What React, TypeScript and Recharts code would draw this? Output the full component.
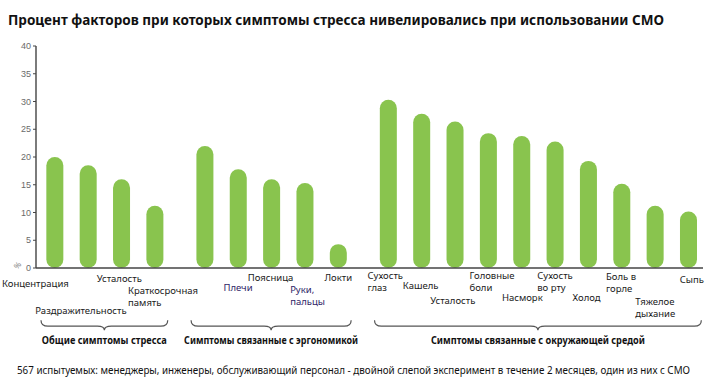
import { BarChart, Bar, XAxis, YAxis, ReferenceArea } from "recharts";

// значения
const categories = [
  "Концентрация",
  "Раздражительность",
  "Усталость",
  "Краткосрочная\nпамять",
  "",
  "Плечи",
  "Поясница",
  "Руки,\nпальцы",
  "Локти",
  "Сухость\nглаз",
  "Кашель",
  "Усталость",
  "Головные\nболи",
  "Насморк",
  "Сухость\nво рту",
  "Холод",
  "Боль в\nгорле",
  "Тяжелое\nдыхание",
  "Сыпь",
];
const values = [
  20, 18.5, 16, 11.2, 22, 17.8, 16, 15.3, 4.3, 30.3, 27.8, 26.4, 24.3, 23.8,
  22.8, 19.3, 15.2, 11.2, 10.2,
];
const groupNames = [
  "Общие симптомы стресса",
  "Симптомы связанные с эргономикой",
  "Симптомы связанные с окружающей средой",
];
const groupSizes = [4, 5, 10];
const yTicks = [0, 5, 10, 15, 20, 25, 30, 35, 40];

const title =
  "Процент факторов при которых симптомы стресса нивелировались при использовании СМО";
const footnote =
  "567 испытуемых: менеджеры, инженеры, обслуживающий персонал - двойной слепой эксперимент в течение 2 месяцев, один из них с СМО";

// группы разделены половиной шага
const groupOf: number[] = [];
groupSizes.forEach((n, g) => {
  for (let k = 0; k < n; k++) groupOf.push(g);
});
const data = values.map((v, i) => ({
  name: categories[i],
  value: v,
  pos: i + groupOf[i] * 0.5,
}));
const groups = groupNames.map((name, g) => {
  const items = data.filter((_, i) => groupOf[i] === g);
  return { name, from: items[0].pos, to: items[items.length - 1].pos };
});

// смещение подписи (левый край от центра столбца, центр строки от оси)
const labelPlace: [number, number][] = [
  [-53, 15], [-53, 42], [-25, 10], [-27, 22], [0, 0],
  [-15, 19], [-24, 9], [-15, 21], [-14, 9],
  [-21, 7], [-19, 17], [-25, 32], [-19, 7], [-20, 29],
  [-18, 7], [-16, 29], [-16, 8], [-20, 33], [-9, 11],
];
const purple = new Set([5, 7]);
// ширина подписей групп, как в исходнике
const groupLabelWidth = [125, 174, 214];

const font = "'Noto Sans', 'Open Sans', sans-serif";

const CategoryTick = (props: any) => {
  const { x, y, index } = props;
  const text = categories[index];
  if (!text) return null;
  const [dx, dy] = labelPlace[index];
  const lines = text.split("\n");
  return (
    <g>
      {lines.map((line, k) => (
        <text
          key={k}
          x={x + dx}
          y={y + dy + k * 12.5}
          fontSize={9.5}
          fontFamily={font}
          fill={purple.has(index) ? "#2e2466" : "#1a1a1a"}
          dominantBaseline="central"
        >
          {line}
        </text>
      ))}
    </g>
  );
};

const braceShape = (label: string, w: number) => (props: any) => {
  const { x, y, width } = props;
  const mid = x + width / 2;
  const h = 6;
  const r = 7;
  const d =
    `M${x},${y} Q${x},${y + h} ${x + r},${y + h} L${mid - r},${y + h} ` +
    `Q${mid},${y + h} ${mid},${y + h + 4} Q${mid},${y + h} ${mid + r},${y + h} ` +
    `L${x + width - r},${y + h} Q${x + width},${y + h} ${x + width},${y}`;
  return (
    <g>
      <path d={d} fill="none" stroke="#555" strokeWidth={1.2} />
      <text
        x={mid}
        y={y + 20}
        textAnchor="middle"
        dominantBaseline="central"
        fontSize={10}
        fontWeight="bold"
        fontFamily={font}
        fill="#111"
        textLength={w}
        lengthAdjust="spacingAndGlyphs"
      >
        {label}
      </text>
    </g>
  );
};

export default function App() {
  return (
    <div style={{ position: "absolute", left: 0, top: 0, width: 717, height: 381, background: "#fff" }}>
      <BarChart
        width={717}
        height={381}
        data={data}
        margin={{ top: 46, right: 14, bottom: 112, left: 0 }}
      >
        <YAxis
          width={36}
          domain={[0, 40]}
          ticks={yTicks}
          interval={0}
          tickSize={3}
          tickMargin={2}
          axisLine={{ stroke: "#444", strokeWidth: 1.4 }}
          tickLine={{ stroke: "#444" }}
          tick={{ fontSize: 9, fill: "#6a6a6a", fontFamily: "'Liberation Sans', Arial, sans-serif" }}
        />
        <XAxis
          dataKey="pos"
          type="number"
          domain={[-0.57, 19.43]}
          allowDataOverflow
          ticks={data.map((d) => d.pos)}
          interval={0}
          height={1}
          tickSize={0}
          tickMargin={0}
          tickLine={false}
          axisLine={{ stroke: "#444", strokeWidth: 1.4 }}
          tick={<CategoryTick />}
        />
        <Bar
          dataKey="value"
          fill="#89c44e"
          barSize={17}
          radius={[8.5, 8.5, 8.5, 8.5]}
          isAnimationActive={false}
        />
        {groups.map((g, i) => (
          <ReferenceArea
            key={g.name}
            x1={g.from - 0.42}
            x2={g.to + 0.38}
            y1={-9.4}
            y2={-11.6}
            ifOverflow="visible"
            shape={braceShape(g.name, groupLabelWidth[i])}
          />
        ))}
      </BarChart>
      <svg
        width={717}
        height={381}
        style={{ position: "absolute", left: 0, top: 0, pointerEvents: "none" }}
      >
        <text
          x={8}
          y={19}
          fontSize={14}
          fontWeight="bold"
          fontFamily={font}
          fill="#111"
          dominantBaseline="central"
          textLength={656}
          lengthAdjust="spacingAndGlyphs"
        >
          {title}
        </text>
        <text
          x={17}
          y={370}
          fontSize={10}
          fontFamily={font}
          fill="#111"
          dominantBaseline="central"
          textLength={673}
          lengthAdjust="spacingAndGlyphs"
        >
          {footnote}
        </text>
        <text
          x={17}
          y={265}
          fontSize={8}
          fontFamily={font}
          fill="#888"
          textAnchor="middle"
          dominantBaseline="central"
          transform="rotate(-50 17 265)"
        >
          %
        </text>
      </svg>
    </div>
  );
}
